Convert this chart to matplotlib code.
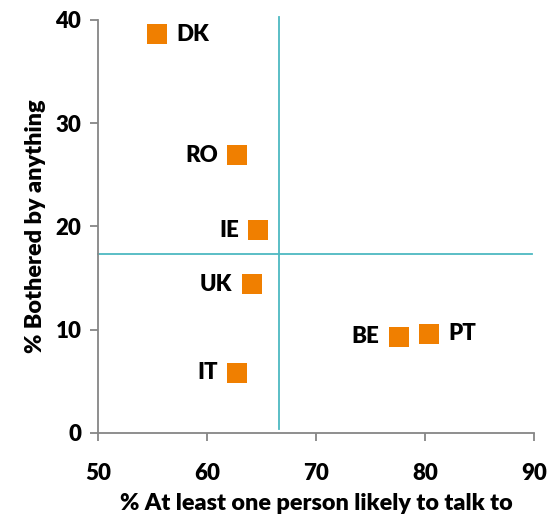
import matplotlib.pyplot as plt

# data
countries = ['DK', 'RO', 'IE', 'UK', 'IT', 'BE', 'PT']
talk_to = [55.4, 62.8, 64.7, 64.1, 62.8, 77.6, 80.4]
bothered = [38.6, 26.9, 19.6, 14.4, 5.8, 9.3, 9.6]
label_side = ['right', 'left', 'left', 'left', 'left', 'left', 'right']

avg_x = 66.6
avg_y = 17.3

plt.rcParams['font.family'] = ['Lato', 'DejaVu Sans']

fig = plt.figure(figsize=(5.49, 5.22), dpi=100)
ax = fig.add_axes([0.1785, 0.171, 0.794, 0.7907])

orange = '#F07F00'
teal = '#4DB9C1'
grey = '#868686'
fw = 'heavy'

# average lines
ax.plot([avg_x, avg_x], [0.4, 40.3], color=teal, lw=1.3, clip_on=False, zorder=1)
ax.plot([50, 89.8], [avg_y, avg_y], color=teal, lw=1.3, clip_on=False, zorder=1)

ax.scatter(talk_to, bothered, marker='s', s=190, color=orange, zorder=3, linewidths=0)

for c, x, y, side in zip(countries, talk_to, bothered, label_side):
    if side == 'right':
        ax.annotate(c, (x, y), xytext=(14, 0), textcoords='offset points',
                    ha='left', va='center', fontsize=16, fontweight=fw)
    else:
        ax.annotate(c, (x, y), xytext=(-14, 0), textcoords='offset points',
                    ha='right', va='center', fontsize=16, fontweight=fw)

ax.set_xlim(50, 90)
ax.set_ylim(0, 40)
ax.set_xticks([50, 60, 70, 80, 90])
ax.set_yticks([0, 10, 20, 30, 40])

for s in ['top', 'right']:
    ax.spines[s].set_visible(False)
for s in ['left', 'bottom']:
    ax.spines[s].set_color(grey)
    ax.spines[s].set_linewidth(1.3)
ax.tick_params(colors=grey, width=1.3, length=6, labelcolor='black', labelsize=16)
for lab in ax.get_xticklabels() + ax.get_yticklabels():
    lab.set_fontweight(fw)
ax.tick_params(axis='x', pad=16)
ax.tick_params(axis='y', pad=6)

ax.set_xlabel('% At least one person likely to talk to', fontsize=16.8, fontweight=fw, labelpad=6)
ax.set_ylabel('% Bothered by anything', fontsize=16.8, fontweight=fw, labelpad=7)

fig.savefig('out.png', dpi=100)
